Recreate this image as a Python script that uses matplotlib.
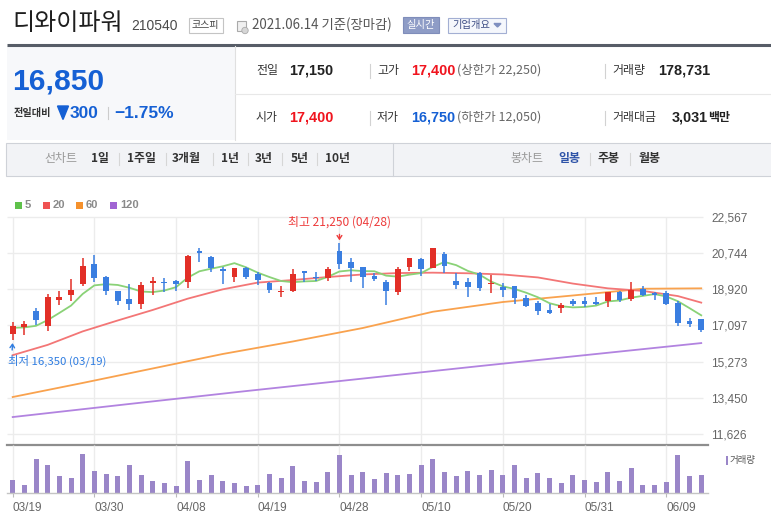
import matplotlib

matplotlib.use("Agg")
import matplotlib.pyplot as plt
from matplotlib.patches import Rectangle, Polygon, Circle
import numpy as np
import pandas as pd

plt.rcParams['font.family'] = ['Noto Sans CJK KR', 'DejaVu Sans']
NUM = ['Liberation Sans', 'Noto Sans CJK KR', 'DejaVu Sans']

# ---- data (daily candles, 2021.03.19 ~ 2021.06.14) ----
dates = ['03/19', '03/22', '03/23', '03/24', '03/25', '03/26', '03/29', '03/30', '03/31',
         '04/01', '04/02', '04/05', '04/06', '04/07', '04/08', '04/09', '04/12', '04/13',
         '04/14', '04/15', '04/16', '04/19', '04/20', '04/21', '04/22', '04/23', '04/26',
         '04/27', '04/28', '04/29', '04/30', '05/03', '05/04', '05/06', '05/07', '05/10',
         '05/11', '05/12', '05/13', '05/14', '05/17', '05/18', '05/20', '05/21', '05/24',
         '05/25', '05/26', '05/27', '05/28', '05/31', '06/01', '06/02', '06/03', '06/04',
         '06/07', '06/08', '06/09', '06/10', '06/11', '06/14']
opens = [16650, 17000, 17850, 17050, 18400, 18650, 19200, 20200, 19550, 18850,
         18450, 18200, 19250, 19300, 19350, 19300, 20850, 20550, 19950, 19550,
         20000, 19700, 19250, 18800, 18850, 19850, 19550, 19500, 20850, 20300,
         20050, 19600, 19300, 18800, 20050, 20450, 20000, 20700, 19350, 19300,
         19750, 19200, 19050, 19100, 18500, 18250, 17900, 18000, 18350, 18350,
         18300, 18350, 18800, 18450, 18950, 18750, 18750, 18250, 17300, 17400]
highs = [17250, 17300, 18000, 18700, 18850, 19450, 20500, 20650, 19600, 18850,
         19200, 19300, 19550, 19500, 19400, 20650, 21000, 20600, 20050, 20000,
         20050, 19800, 19300, 19100, 19950, 19850, 19800, 20050, 21250, 20500,
         20050, 19750, 19400, 20050, 20500, 20500, 21000, 20800, 19750, 19500,
         19800, 19650, 19250, 19100, 18650, 18350, 18200, 18250, 18450, 18550,
         18550, 18800, 18850, 19300, 19100, 18800, 18850, 18350, 17450, 17400]
lows = [16350, 16600, 17100, 16800, 18150, 18350, 19100, 19300, 18650, 18150,
        17900, 17950, 18650, 18800, 18850, 19000, 20300, 19800, 19200, 19300,
        19450, 19150, 18750, 18550, 18800, 19300, 19350, 19350, 19950, 19300,
        19000, 19350, 18150, 18650, 19850, 19600, 20000, 19750, 18950, 18550,
        18850, 18750, 18550, 18200, 18050, 17650, 17700, 17750, 18100, 18050,
        18150, 18050, 18300, 18350, 18600, 18400, 18150, 17050, 17000, 16750]
closes = [17050, 17150, 17350, 18550, 18550, 18900, 20100, 19500, 18850, 18350,
          18200, 19150, 19350, 19250, 19200, 20600, 20750, 20000, 19850, 20000,
          19550, 19400, 18900, 18850, 19700, 19750, 19500, 19950, 20200, 20000,
          19550, 19450, 18850, 19950, 20500, 19950, 21000, 20100, 19150, 19050,
          19000, 19250, 18900, 18500, 18100, 17850, 17750, 18150, 18200, 18200,
          18200, 18800, 18400, 18900, 18650, 18650, 18200, 17200, 17150, 16850]
volumes = [135000, 78000, 341000, 280000, 169000, 155000, 398000, 223000, 189000, 169000,
           280000, 179000, 121000, 101000, 67000, 320000, 135000, 179000, 121000, 101000,
           67000, 78000, 189000, 155000, 270000, 121000, 111000, 212000, 388000, 179000,
           212000, 145000, 202000, 179000, 189000, 280000, 341000, 212000, 169000, 223000,
           179000, 236000, 179000, 280000, 155000, 202000, 155000, 101000, 179000, 135000,
           111000, 212000, 121000, 256000, 78000, 78000, 111000, 388000, 169000, 178731]
closes_before = [17050, 16950, 17100, 16750]   # sessions before 03/19, for the 5-day MA

ma20_idx = [0, 3, 6, 9, 12, 15, 18, 21, 24, 27, 30, 33, 36, 39, 42, 45, 48, 51, 54, 57, 59]
ma20_val = [15600, 16120, 16800, 17350, 17880, 18450, 18920, 19260, 19390, 19540, 19670,
            19740, 19760, 19730, 19670, 19520, 19210, 18970, 18840, 18580, 18250]
ma60_idx = [0, 6, 12, 18, 24, 30, 36, 42, 48, 54, 59]
ma60_val = [13490, 14200, 14930, 15660, 16290, 16970, 17790, 18280, 18610, 18950, 18970]
ma120_idx = [0, 10, 20, 30, 40, 50, 59]
ma120_val = [12480, 13140, 13790, 14420, 15050, 15660, 16210]

price_ticks = [11626, 13450, 15273, 17097, 18920, 20744, 22567]

UP, DOWN = '#e22f27', '#3a7ee0'
VOL = '#9a86c8'
GRID = '#ececec'
MA_COLORS = {'5': '#8ad277', '20': '#f37676', '60': '#f9a24e', '120': '#b283e0'}
LEG_COLORS = {'5': '#5fc14b', '20': '#ef5252', '60': '#f5912d', '120': '#a064d3'}

W, H = 771, 518
fig = plt.figure(figsize=(W / 100, H / 100), dpi=100)
fig.patch.set_facecolor('white')


def box(x0, y0, x1, y1):
    return [x0 / W, 1 - y1 / H, (x1 - x0) / W, (y1 - y0) / H]


# pixel-space canvas for the page furniture
bg = fig.add_axes([0, 0, 1, 1])
bg.set_xlim(0, W)
bg.set_ylim(H, 0)
bg.axis('off')

# ---- header ----
bg.text(12, 23, '디와이파워', size=17.3, color='#1e1e1e', va='center')
bg.text(131, 25.5, '210540', size=10, color='#4a4a4a', va='center', family=NUM)
bg.add_patch(Rectangle((188.5, 17.5), 34, 15, fc='white', ec='#c4c4c4', lw=0.8))
bg.text(205.5, 25, '코스피', size=7.2, color='#444', ha='center', va='center')
bg.add_patch(Rectangle((237, 21), 9, 10, fc='#f0f0f0', ec='#aaaaaa', lw=0.8))
bg.add_patch(Circle((245, 30.5), 3.2, fc='#d6d6d6', ec='#aaaaaa', lw=0.6))
bg.text(252, 25, '2021.06.14 기준(장마감)', size=9.6, color='#555', va='center')
bg.add_patch(Rectangle((403, 17), 36, 16, fc='#8e9cc6', ec='#7f8dba', lw=0.8))
bg.text(421, 25, '실시간', size=7.4, color='white', ha='center', va='center')
bg.add_patch(Rectangle((447.5, 17.5), 58, 15, fc='#f5f7fc', ec='#a3afd3', lw=0.8))
bg.text(452, 25, '기업개요', size=7.4, color='#3f4f86', va='center')
bg.add_patch(Polygon([(494, 23.5), (501, 23.5), (497.5, 27)], closed=True, color='#8090c0'))

bg.plot([7, W], [44.5, 44.5], color='#575d67', lw=2.2, solid_capstyle='butt')
bg.add_patch(Rectangle((7, 46), 228, 94, fc='#f7f8fa', ec='none'))
bg.plot([235, 235], [46, 140], color='#e0e0e0', lw=0.8)
bg.plot([235, W], [93.5, 93.5], color='#e8e8e8', lw=0.8)

BLUE_TXT, RED_TXT = '#1560d4', '#f0141e'
bg.text(12, 82, '16,850', size=21.6, weight='bold', color=BLUE_TXT, va='center', family=NUM)
bg.text(14, 113, '전일대비', size=7.3, weight='bold', color='#333', va='center')
bg.add_patch(Polygon([(57.5, 106), (68.5, 106), (63, 119.5)], closed=True, color=BLUE_TXT))
bg.text(70, 113, '300', size=12.5, weight='bold', color=BLUE_TXT, va='center', family=NUM)
bg.plot([108, 108], [107, 119], color='#cccccc', lw=0.8)
bg.text(114, 113, '−1.75%', size=12.5, weight='bold', color=BLUE_TXT, va='center', family=NUM)

rows = [
    (70.5, [(256, '전일', '#333', 'normal'), (289, '17,150', '#222', 'bold'),
            (377, '고가', '#333', 'normal'), (411, '17,400', RED_TXT, 'bold'),
            (457, '(상한가 22,250)', '#666', 'normal'),
            (612, '거래량', '#333', 'normal'), (658, '178,731', '#222', 'bold')]),
    (117.5, [(256, '시가', '#333', 'normal'), (289, '17,400', RED_TXT, 'bold'),
             (377, '저가', '#333', 'normal'), (411, '16,750', BLUE_TXT, 'bold'),
             (457, '(하한가 12,050)', '#666', 'normal'),
             (612, '거래대금', '#333', 'normal'), (672, '3,031', '#222', 'bold'),
             (708, '백만', '#222', 'bold')]),
]
for yy, items in rows:
    for xx, s, c, w in items:
        if w == 'bold' and s[0].isdigit():
            bg.text(xx, yy, s, size=10.4, weight='bold', color=c, va='center', family=NUM)
        elif s.startswith('('):
            bg.text(xx, yy, s, size=9, color=c, va='center')
        else:
            bg.text(xx, yy, s, size=8.6, weight=w, color=c, va='center')
    for sx in (370, 605):
        bg.plot([sx, sx], [yy - 7, yy + 7], color='#d2d2d2', lw=0.8)

# ---- toolbar ----
bg.add_patch(Rectangle((5.5, 142.5), 800, 33, fc='#f2f3f6', ec='#cfd2d8', lw=0.8))
bg.plot([392.5, 392.5], [142.5, 175.5], color='#cfd2d8', lw=0.8)
TY = 158.5
bg.text(44, TY, '선차트', size=8.6, color='#999', va='center')
for xx, s in [(91, '1일'), (127, '1주일'), (172, '3개월'), (221, '1년'),
              (255, '3년'), (291, '5년'), (325, '10년')]:
    bg.text(xx, TY, s, size=8.6, weight='bold', color='#333', va='center')
for sx in (119, 166, 213, 248, 282, 317):
    bg.plot([sx, sx], [TY - 6, TY + 6], color='#d6d6d6', lw=0.8)
bg.text(510, TY, '봉차트', size=8.6, color='#999', va='center')
bg.text(558, TY, '일봉', size=8.6, weight='bold', color='#2f54a8', va='center')
bg.text(597, TY, '주봉', size=8.6, weight='bold', color='#333', va='center')
bg.text(638, TY, '월봉', size=8.6, weight='bold', color='#333', va='center')
for sx in (590, 630):
    bg.plot([sx, sx], [TY - 6, TY + 6], color='#d6d6d6', lw=0.8)

# ---- MA legend ----
for sx, key in [(15, '5'), (43, '20'), (76, '60'), (110, '120')]:
    bg.add_patch(Rectangle((sx, 201.5), 7, 7, fc=LEG_COLORS[key], ec='none'))
    bg.text(sx + 10, 205.5, key, size=8, weight='bold', color='#8a8a8a', va='center', family=NUM)

# ---- price panel ----
opens, highs, lows, closes = map(np.array, (opens, highs, lows, closes))
n = len(closes)
x = np.arange(n)
ma5 = pd.Series(closes_before + list(closes)).rolling(5).mean().to_numpy()[len(closes_before):]

x_lo, x_hi = (7 - 12.7) / 11.67, (708 - 12.7) / 11.67
x_grid_hi = (703 - 12.7) / 11.67
ax = fig.add_axes(box(7, 212, 708, 445))
ax.set_facecolor('none')
ax.set_xlim(x_lo, x_hi)
ax.set_ylim(11071, 22819)

tick_pos = x[::7]
ax.hlines(price_ticks, x_lo, x_grid_hi, color=GRID, lw=1, zorder=0)
ax.vlines(tick_pos, 11071, price_ticks[-1], color=GRID, lw=1, zorder=0)

ax.plot(ma120_idx, ma120_val, color=MA_COLORS['120'], lw=1.3, zorder=2)
ax.plot(ma60_idx, ma60_val, color=MA_COLORS['60'], lw=1.3, zorder=2)
ax.plot(ma20_idx, ma20_val, color=MA_COLORS['20'], lw=1.3, zorder=2)
ax.plot(x, ma5, color=MA_COLORS['5'], lw=1.3, zorder=2)

cols = np.where(closes >= opens, UP, DOWN)
ax.vlines(x, lows, highs, colors=cols, lw=1.1, zorder=3)
body_lo = np.minimum(opens, closes)
body_h = np.abs(closes - opens)
small = body_h < 60
body_lo = np.where(small, (opens + closes) / 2 - 30, body_lo)
body_h = np.where(small, 60, body_h)
ax.bar(x, body_h, 0.5, bottom=body_lo, color=cols, zorder=4, lw=0)

i_hi, i_lo = int(np.argmax(highs)), int(np.argmin(lows))
ax.annotate(f'최고 {highs[i_hi]:,} ({dates[i_hi]})', xy=(i_hi, highs[i_hi]),
            xytext=(0, 15), textcoords='offset points', ha='center', va='center',
            size=8.6, color='#ee3b3b', zorder=6,
            arrowprops=dict(arrowstyle='->,head_length=0.3,head_width=0.2', color='#ee3b3b',
                            lw=1, shrinkA=2, shrinkB=2, relpos=(0.5, 0)))
ax.annotate(f'최저 {lows[i_lo]:,} ({dates[i_lo]})', xy=(i_lo, lows[i_lo]),
            xytext=(-3.4, -14.5), textcoords='offset points', ha='left', va='center',
            size=8.2, color='#2f7de1', zorder=6, annotation_clip=False,
            arrowprops=dict(arrowstyle='->,head_length=0.3,head_width=0.2', color='#2f7de1',
                            lw=1, shrinkA=1, shrinkB=2, relpos=(0.04, 1)))

ax.yaxis.tick_right()
ax.set_yticks(price_ticks)
ax.set_yticklabels([f'{v:,}' for v in price_ticks], family=NUM)
ax.tick_params(axis='y', length=0, pad=2.5, labelsize=8.6, labelcolor='#666')
ax.set_xticks([])
for s in ('top', 'left', 'right'):
    ax.spines[s].set_visible(False)
ax.spines['bottom'].set_color('#8e8e8e')
ax.spines['bottom'].set_linewidth(1.6)

# ---- volume panel ----
axv = fig.add_axes(box(7, 445, 708, 493))
axv.set_facecolor('none')
axv.set_xlim(x_lo, x_hi)
axv.set_ylim(0, 485000)
axv.vlines(tick_pos, 0, 485000, color=GRID, lw=1, zorder=0)
axv.bar(x, volumes, 0.43, color=VOL, lw=0, zorder=2)
axv.set_yticks([])
axv.set_xticks(tick_pos)
axv.set_xticklabels([dates[i] for i in tick_pos], ha='left', family=NUM)
axv.tick_params(axis='x', length=3, color='#bbbbbb', pad=3.5, labelsize=8.5, labelcolor='#666')
for s in ('top', 'left', 'right'):
    axv.spines[s].set_visible(False)
axv.spines['bottom'].set_color('#c4c4c4')
axv.spines['bottom'].set_linewidth(1)

bg.add_patch(Rectangle((725.5, 456), 2.6, 8.5, fc=VOL, ec='none'))
bg.text(730, 460.5, '거래량', size=6.8, color='#555', va='center')

fig.savefig('out.png', dpi=100)
